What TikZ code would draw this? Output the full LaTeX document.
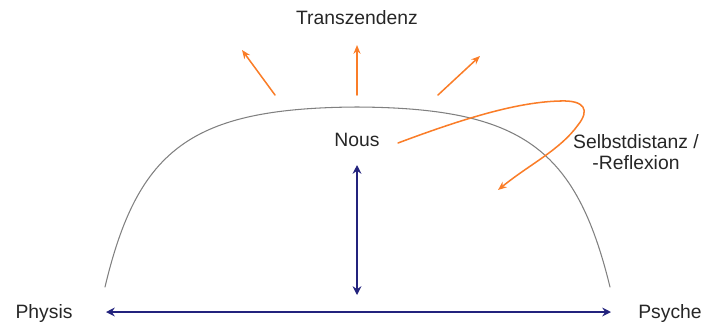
\documentclass[tikz,border=0pt]{standalone}
\usepackage{fontspec}
\setmainfont{Liberation Sans}
\usetikzlibrary{arrows.meta}
\definecolor{rayorange}{RGB}{250,125,40}
\definecolor{axisblue}{RGB}{35,35,125}
\definecolor{humpgray}{RGB}{128,128,128}
\tikzset{
  lbl/.style={font=\fontsize{16.5}{18.5}\selectfont, text=black!85, inner sep=0pt},
  ray/.style={draw=rayorange, line width=1.3pt, -{Stealth[length=7.5pt,width=6pt]}},
  axis/.style={draw=axisblue, line width=1.3pt, {Stealth[length=7.5pt,width=7.5pt,inset=2.5pt]}-{Stealth[length=7.5pt,width=7.5pt,inset=2.5pt]}}
}
\begin{document}
\begin{tikzpicture}[x=0.03cm,y=-0.03cm,line cap=round,line join=round]
  \useasboundingbox (0,0) rectangle (704,323);
  % labels
  \node[lbl] (trans) at (357,18) {Transzendenz};
  \node[lbl] (nous) at (357,140) {Nous};
  \node[lbl, align=center] (selbst) at (636,152) {Selbstdistanz /\\-Reflexion};
  \node[lbl] (physis) at (44,313) {Physis};
  \node[lbl] (psyche) at (670,313) {Psyche};
  % hump
  \coordinate (L) at (105,287);
  \coordinate (T) at (357,107);
  \coordinate (R) at (610,287);
  \draw[humpgray, line width=0.9pt] (L) .. controls (138,148) and (192,108) .. (T)
    .. controls (522,108) and (576,148) .. (R);
  % rays
  \coordinate (r1) at (275,95);
  \coordinate (r1e) at (242,50);
  \coordinate (r2) at (357,95);
  \coordinate (r2e) at (357,45);
  \coordinate (r3) at (438,95);
  \coordinate (r3e) at (480,56);
  \draw[ray] (r1) -- (r1e);
  \draw[ray] (r2) -- (r2e);
  \draw[ray] (r3) -- (r3e);
  % loop
  \coordinate (s0) at (398,143);
  \coordinate (s1) at (560,101);
  \coordinate (s2) at (578,125);
  \coordinate (s3) at (498,190);
  \draw[ray] (s0) .. controls (470,116) and (520,102) .. (s1)
    .. controls (585,100) and (590,110) .. (s2)
    .. controls (560,150) and (530,164) .. (s3);
  % axes
  \coordinate (v0) at (357,165);
  \coordinate (v1) at (357,295);
  \coordinate (h0) at (106,312);
  \coordinate (h1) at (611,312);
  \draw[axis] (v0) -- (v1);
  \draw[axis] (h0) -- (h1);
\end{tikzpicture}
\end{document}
